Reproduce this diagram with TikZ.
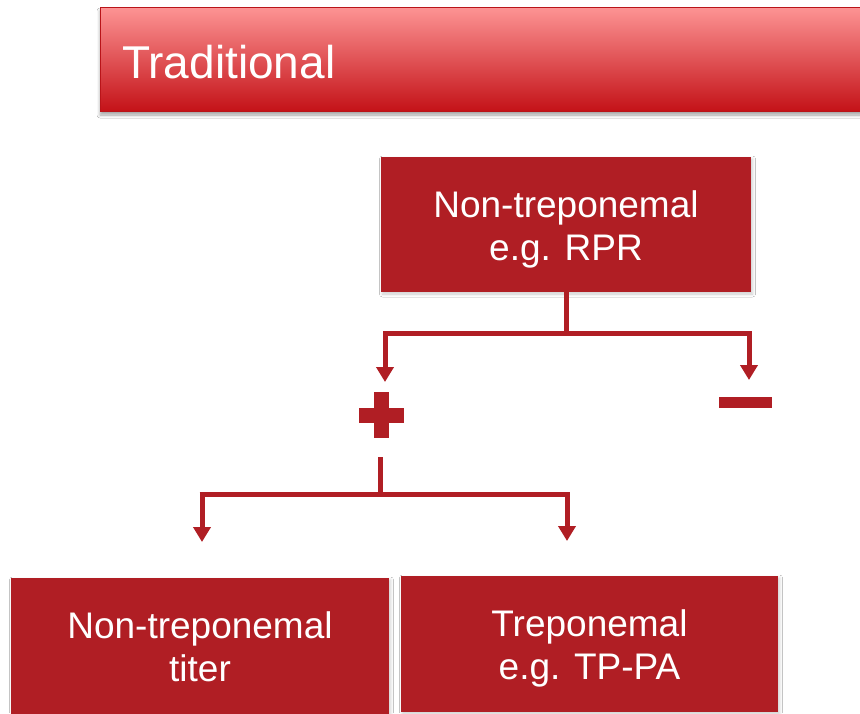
\documentclass[tikz,border=0pt]{standalone}
\usepackage{fontspec}
\setmainfont{Liberation Sans}
\usetikzlibrary{arrows.meta,shadows.blur}
\definecolor{boxred}{RGB}{176,30,36}
\definecolor{hdrtop}{RGB}{253,148,148}
\definecolor{hdrbot}{RGB}{196,18,24}
\begin{document}
\begin{tikzpicture}[x=1pt,y=-1pt,
  redbox/.style={rectangle,fill=boxred,inner sep=0pt,
    blur shadow={shadow xshift=1.5pt,shadow yshift=-2pt,shadow blur radius=3pt,shadow opacity=20}},
  boxtext/.style={text=white,align=center,inner sep=0pt,font=\fontsize{37}{43}\selectfont},
  conn/.style={draw=boxred,line width=5pt},
  arr/.style={conn,-{Triangle[width=17pt,length=15pt]}}]
\path[use as bounding box] (0,0) rectangle (860,713);
\clip (0,0) rectangle (860,713);
\fill[white] (0,0) rectangle (860,713);
% header
\path[blur shadow={shadow xshift=0pt,shadow yshift=-4pt,shadow blur radius=3pt,shadow opacity=35},
  top color=hdrtop,bottom color=hdrbot,draw={rgb,255:red,185;green,20;blue,25},line width=0.8pt]
  (100,7) rectangle (880,111);
\node[anchor=base west,inner sep=0pt,text=white,font=\fontsize{46}{55}\selectfont] (title) at (122,78) {Traditional};
% boxes
\node[redbox,minimum width=370pt,minimum height=135pt] (top) at (566,224.5) {};
\node[boxtext] (toptxt) at (566,229) {Non-treponemal\\e.g. RPR};
\node[redbox,minimum width=378pt,minimum height=136pt] (left) at (200,646) {};
\node[boxtext] (lefttxt) at (200,646.5) {Non-treponemal\\titer};
\node[redbox,minimum width=377pt,minimum height=136pt] (right) at (589.5,644) {};
\node[boxtext] (righttxt) at (589.5,648.5) {Treponemal\\e.g. TP-PA};
% plus and minus
\coordinate (plus) at (381,415);
\coordinate (minus) at (745.5,402.5);
\fill[boxred] (359,407.5) rectangle (404,422.5);
\fill[boxred] (373.5,392) rectangle (388.5,438);
\fill[boxred] (719,397) rectangle (772,408);
% first connector
\coordinate (j1) at (566,333);
\coordinate (a1) at (385,382);
\coordinate (a2) at (749,380);
\draw[conn] (top.south) -- (j1);
\draw[conn] (383,333) -- (751.5,333);
\draw[arr] (a1 |- j1) -- (a1);
\draw[arr] (a2 |- j1) -- (a2);
% second connector
\coordinate (s2) at (380,457);
\coordinate (j2) at (380,494);
\coordinate (b1) at (202,542);
\coordinate (b2) at (567,541);
\draw[conn] (s2) -- (j2);
\draw[conn] (199.5,494) -- (569.5,494);
\draw[arr] (b1 |- j2) -- (b1);
\draw[arr] (b2 |- j2) -- (b2);
\end{tikzpicture}
\end{document}
